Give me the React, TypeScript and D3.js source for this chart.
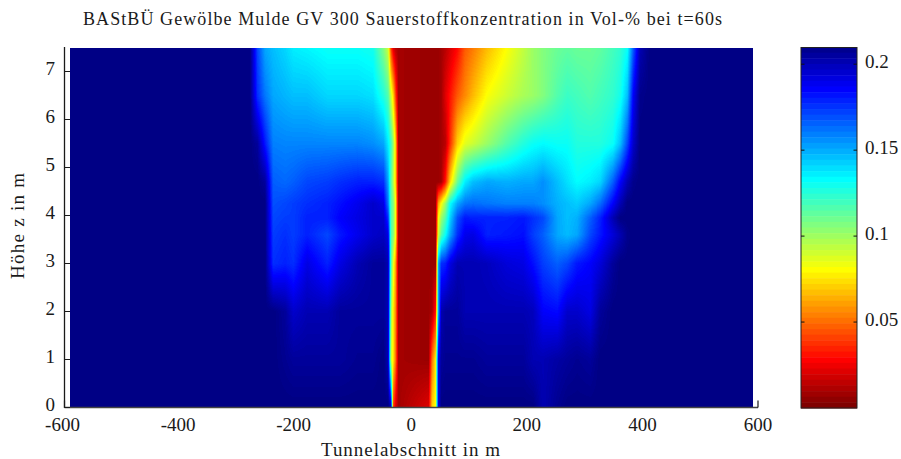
import React, { useEffect, useRef } from "react";
import * as d3 from "d3";

const titleText = "BAStBÜ Gewölbe Mulde GV 300 Sauerstoffkonzentration in Vol-% bei t=60s";
const xLabel = "Tunnelabschnitt in m";
const yLabel = "Höhe z in m";
const xTicks = [-600, -400, -200, 0, 200, 400, 600];
const yTicks = [0, 1, 2, 3, 4, 5, 6, 7];
const cbTicks = [0.05, 0.1, 0.15, 0.2];

const stations = [
  -590, -279, -266, -253, -239, -218, -204, -180, -145, -123, -93, -66, -48, -40, -35, -31, -27, -22,
  30, 36, 42, 47, 52, 59, 67, 80, 93, 107, 131, 166, 194, 211, 228, 253, 270, 287, 310, 327, 349, 362, 374, 384, 396, 413, 590,
];
const heights = [0, 1, 2, 3, 3.6, 3.95, 4.25, 4.7, 5.5, 6.5, 7.5];

const o2z0 = [
  .21, .21, .21, .21, .21, .21, .21, .21, .21, .21, .21, .21, .21, .21, .2, .04, .02, .008,
  .02, .07, .08, .19, .21, .21, .21, .21, .21, .21, .21, .21, .21, .21, .2, .207, .21, .21, .21, .21, .21, .21, .21, .21, .21, .21, .21,
];
const o2z1 = [
  .21, .21, .21, .21, .21, .207, .205, .205, .205, .205, .207, .207, .21, .2, .09, .075, .05, .008,
  .006, .05, .075, .19, .205, .207, .207, .207, .207, .207, .205, .205, .205, .2, .2, .203, .205, .207, .205, .21, .21, .21, .21, .21, .21, .21, .21,
];
const o2z2 = [
  .21, .21, .21, .21, .21, .205, .195, .2, .2, .205, .205, .205, .205, .2, .1, .075, .055, .008,
  .006, .01, .03, .15, .2, .205, .205, .205, .2, .2, .2, .2, .2, .198, .185, .183, .195, .195, .19, .205, .21, .21, .21, .21, .21, .21, .21,
];
const o2z3 = [
  .21, .21, .21, .21, .175, .178, .175, .19, .178, .19, .2, .205, .205, .2, .115, .085, .06, .008,
  .006, .006, .006, .15, .175, .178, .19, .2, .2, .2, .198, .192, .19, .182, .172, .165, .17, .18, .185, .192, .205, .21, .21, .21, .21, .21, .21,
];
const o2z36 = [
  .21, .21, .21, .21, .172, .175, .172, .178, .17, .18, .188, .195, .197, .19, .115, .105, .08, .008,
  .006, .006, .006, .09, .115, .13, .15, .175, .188, .19, .178, .18, .182, .172, .165, .15, .146, .15, .17, .18, .192, .2, .208, .21, .21, .21, .21,
];
const o2z395 = [
  .21, .21, .21, .21, .17, .172, .172, .178, .178, .185, .19, .195, .195, .175, .115, .105, .08, .008,
  .006, .006, .006, .08, .1, .115, .14, .168, .18, .178, .178, .178, .18, .175, .17, .15, .145, .148, .165, .178, .2, .21, .21, .21, .21, .21, .21,
];
const o2z425 = [
  .21, .21, .21, .21, .168, .17, .172, .175, .178, .182, .188, .195, .19, .16, .115, .105, .08, .008,
  .006, .006, .006, .06, .08, .1, .13, .15, .16, .162, .16, .158, .158, .158, .155, .148, .145, .142, .15, .162, .185, .2, .21, .21, .21, .21, .21,
];
const o2z47 = [
  .21, .21, .21, .205, .165, .163, .165, .17, .172, .175, .178, .178, .175, .15, .115, .095, .07, .008,
  .006, .006, .006, .006, .008, .03, .07, .11, .135, .145, .15, .148, .15, .15, .155, .145, .138, .132, .135, .14, .165, .185, .2, .208, .21, .21, .21,
];
const o2z55 = [
  .21, .21, .205, .18, .158, .157, .157, .157, .157, .157, .157, .155, .15, .135, .12, .1, .07, .008,
  .006, .006, .006, .006, .008, .012, .035, .07, .085, .09, .1, .115, .125, .13, .132, .13, .13, .125, .125, .125, .13, .145, .17, .195, .21, .21, .21,
];
const o2z65 = [
  .21, .21, .175, .16, .15, .147, .145, .145, .14, .14, .14, .138, .125, .115, .09, .07, .04, .008,
  .006, .006, .006, .006, .008, .02, .03, .045, .055, .065, .08, .09, .097, .1, .105, .115, .12, .118, .115, .118, .122, .128, .145, .185, .208, .21, .21,
];
const o2z75 = [
  .21, .21, .17, .15, .145, .14, .135, .133, .13, .13, .13, .128, .105, .09, .04, .02, .012, .008,
  .006, .006, .006, .006, .008, .012, .018, .028, .045, .052, .065, .08, .092, .1, .105, .11, .112, .11, .11, .112, .118, .122, .13, .165, .2, .21, .21,
];
const o2Rows = [o2z0, o2z1, o2z2, o2z3, o2z36, o2z395, o2z425, o2z47, o2z55, o2z65, o2z75];

const W = 901;
const H = 459;
const axL = 64.5;
const axR = 758;
const axB = 407.5;
const axT = 47.5;
const imgL = 70;
const imgR = 753;
const cbL = 801;
const cbR = 857;
const cMax = 0.21;
const fontFamily = "'Liberation Serif', serif";
const ink = "#1a1a1a";
const barLevels = 64;
const heatLevels = 192;

const jet = (i: number, n: number) => {
  const t = (i + 1) / n;
  const ch = (c: number) => Math.round(255 * Math.max(0, Math.min(1, 1.5 - Math.abs(4 * t - c))));
  return `rgb(${ch(3)},${ch(2)},${ch(1)})`;
};
const levelOf = (v: number) => Math.max(0, Math.min(heatLevels - 1, Math.floor((1 - v / cMax) * heatLevels)));

const xScale = d3.scaleLinear().domain([-600, 600]).range([axL, axR]);
const yScale = d3.scaleLinear().domain([0, 7.5]).range([axB, axT]);
const cScale = d3.scaleLinear().domain([0, cMax]).range([408, 47]);

const locate = (arr: number[], v: number): [number, number] => {
  const i = Math.max(0, Math.min(arr.length - 2, d3.bisectRight(arr, v) - 1));
  const f = Math.max(0, Math.min(1, (v - arr[i]) / (arr[i + 1] - arr[i])));
  return [i, f];
};

export default function App() {
  const heat = useRef<SVGGElement>(null);
  const bar = useRef<SVGGElement>(null);

  useEffect(() => {
    const runs: { x: number; y: number; w: number; level: number }[] = [];
    const colX = d3.range(imgL, imgR).map((px) => locate(stations, xScale.invert(px + 0.5)));
    for (let py = 48; py < 408; py++) {
      const [r, fr] = locate(heights, yScale.invert(py + 0.5));
      const a = o2Rows[r];
      const b = o2Rows[r + 1];
      let start = imgL;
      let cur = -1;
      colX.forEach(([c, fc], k) => {
        const lo = a[c] + (a[c + 1] - a[c]) * fc;
        const hi = b[c] + (b[c + 1] - b[c]) * fc;
        const lv = levelOf(lo + (hi - lo) * fr);
        if (lv !== cur) {
          if (cur >= 0) runs.push({ x: start, y: py, w: imgL + k - start, level: cur });
          start = imgL + k;
          cur = lv;
        }
      });
      runs.push({ x: start, y: py, w: imgR - start, level: cur });
    }
    d3.select(heat.current)
      .selectAll("rect")
      .data(runs)
      .join("rect")
      .attr("x", (d) => d.x)
      .attr("y", (d) => d.y)
      .attr("width", (d) => d.w)
      .attr("height", 1)
      .attr("fill", (d) => jet(d.level, heatLevels))
      .attr("shape-rendering", "crispEdges");

    const bands = d3.range(barLevels);
    d3.select(bar.current)
      .selectAll("rect")
      .data(bands)
      .join("rect")
      .attr("x", cbL)
      .attr("width", cbR - cbL)
      .attr("y", (i) => cScale(cMax * (1 - i / barLevels)))
      .attr("height", (cScale(0) - cScale(cMax)) / barLevels + 0.5)
      .attr("fill", (i) => jet(i, barLevels));
  }, []);

  return (
    <svg width={W} height={H} style={{ position: "absolute", left: 0, top: 0 }} fontFamily={fontFamily} fill={ink}>
      <rect width={W} height={H} fill="#fff" />
      <g ref={heat} />
      <text x={83} y={25} fontSize={18} textLength={639} lengthAdjust="spacing">{titleText}</text>

      <line x1={axL} x2={axL} y1={47} y2={408} stroke={ink} strokeWidth={1.3} />
      <line x1={axL} x2={axR} y1={axB} y2={axB} stroke="#444" strokeWidth={1.3} />
      {yTicks.map((t) => (
        <g key={t}>
          <line x1={axL} x2={70} y1={yScale(t)} y2={yScale(t)} stroke={ink} strokeWidth={1} />
          <text x={55} y={yScale(t) + 3.5} fontSize={19} textAnchor="end">{t}</text>
        </g>
      ))}
      {xTicks.map((t) => (
        <g key={t}>
          {(t === -600 || t === 600) && (
            <line x1={xScale(t)} x2={xScale(t)} y1={axB} y2={axB - 7} stroke={ink} strokeWidth={1.2} />
          )}
          <text x={xScale(t) - (t < 0 ? 2 : 0)} y={431} fontSize={19} textAnchor="middle">{t}</text>
        </g>
      ))}
      <text x={410.5} y={456} fontSize={19} textAnchor="middle" textLength={179} lengthAdjust="spacing">{xLabel}</text>
      <text transform={`translate(24,226) rotate(-90)`} fontSize={19} textAnchor="middle" textLength={106} lengthAdjust="spacing">{yLabel}</text>

      <g ref={bar} />
      <rect x={cbL} y={47.5} width={cbR - cbL} height={360.5} fill="none" stroke="#222" strokeWidth={1} />
      {cbTicks.map((t) => (
        <g key={t}>
          <line x1={cbL} x2={cbL + 3.5} y1={cScale(t)} y2={cScale(t)} stroke="#111" />
          <line x1={cbR - 3.5} x2={cbR} y1={cScale(t)} y2={cScale(t)} stroke="#111" />
          <text x={865} y={cScale(t) + 4} fontSize={19}>{t}</text>
        </g>
      ))}
    </svg>
  );
}
